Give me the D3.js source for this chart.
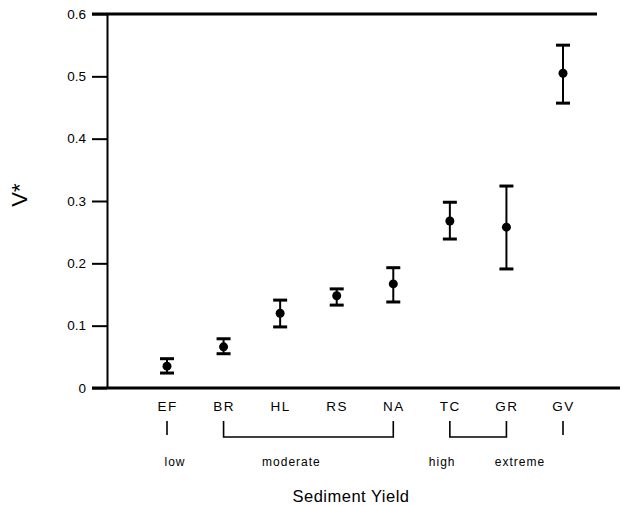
<!DOCTYPE html>
<html>
<head>
<meta charset="utf-8">
<script src="https://cdn.jsdelivr.net/npm/d3@7.9.0/dist/d3.min.js"></script>
<style>
  body { margin: 0; background: #fff; }
  svg { display: block; font-family: "Liberation Sans", Arial, sans-serif; }
</style>
</head>
<body>
<svg width="629" height="506"></svg>
<script>
// sites along the sediment yield axis
const sites = ["EF", "BR", "HL", "RS", "NA", "TC", "GR", "GV"];
// V* mean and error bar ends
const vMean = [0.035, 0.066, 0.12, 0.148, 0.167, 0.268, 0.258, 0.505];
const vLow  = [0.024, 0.055, 0.098, 0.133, 0.138, 0.239, 0.191, 0.457];
const vHigh = [0.047, 0.079, 0.141, 0.159, 0.193, 0.298, 0.324, 0.55];
const yTicks = [0, 0.1, 0.2, 0.3, 0.4, 0.5, 0.6];
// sediment yield classes (first and last site of each)
const groupNames = ["low", "moderate", "high", "extreme"];
const groupFrom = ["EF", "BR", "TC", "GV"];
const groupTo = ["EF", "NA", "GR", "GV"];

const svg = d3.select("svg");
const plotLeft = 107, plotTop = 14, plotBottom = 388;

const x = d3.scalePoint().domain(sites).range([167, 563]);
const y = d3.scaleLinear().domain([0, 0.6]).range([plotBottom, plotTop]);

// y axis
const yAxis = svg.append("g")
  .attr("transform", `translate(${plotLeft},0)`)
  .call(d3.axisLeft(y).tickValues(yTicks).tickSize(15).tickSizeOuter(0).tickPadding(6)
    .tickFormat(d => d === 0 ? "0" : d3.format(".1f")(d)));
yAxis.select(".domain").attr("stroke", "#000").attr("stroke-width", 2);
yAxis.selectAll(".tick line").attr("stroke", "#000").attr("stroke-width", 2);
yAxis.selectAll(".tick text").attr("font-size", 13.5).attr("fill", "#000");

// frame lines top and bottom
svg.append("line").attr("x1", plotLeft - 15).attr("x2", 597)
  .attr("y1", y(0.6)).attr("y2", y(0.6)).attr("stroke", "#000").attr("stroke-width", 3);
svg.append("line").attr("x1", plotLeft - 15).attr("x2", 620)
  .attr("y1", y(0)).attr("y2", y(0)).attr("stroke", "#000").attr("stroke-width", 3);

// x axis labels
const xAxis = svg.append("g")
  .attr("transform", `translate(0,${plotBottom})`)
  .call(d3.axisBottom(x).tickSize(0).tickPadding(13));
xAxis.select(".domain").remove();
xAxis.selectAll(".tick text").attr("font-size", 13.5).attr("fill", "#000")
  .attr("letter-spacing", "1.5px");

// error bars
const bars = svg.append("g");
sites.forEach((s, i) => {
  const cx = x(s);
  bars.append("line").attr("x1", cx).attr("x2", cx)
    .attr("y1", y(vLow[i])).attr("y2", y(vHigh[i]))
    .attr("stroke", "#000").attr("stroke-width", 2);
  [vLow[i], vHigh[i]].forEach(v => {
    bars.append("line").attr("x1", cx - 7).attr("x2", cx + 7)
      .attr("y1", y(v)).attr("y2", y(v))
      .attr("stroke", "#000").attr("stroke-width", 3);
  });
  bars.append("circle").attr("cx", cx).attr("cy", y(vMean[i])).attr("r", 4.5).attr("fill", "#000");
});

// class brackets and names
const bTop = 421, bBot = 437;
const nameShift = { low: 8, moderate: -17, high: -36, extreme: -43 };
groupNames.forEach((g, i) => {
  const x1 = x(groupFrom[i]), x2 = x(groupTo[i]);
  const p = x1 === x2
    ? `M${x1},${bTop}V${bBot - 2}`
    : `M${x1},${bTop}V${bBot}H${x2}V${bTop}`;
  svg.append("path").attr("d", p).attr("fill", "none")
    .attr("stroke", "#000").attr("stroke-width", 1.6);
  svg.append("text").attr("x", (x1 + x2) / 2 + nameShift[g]).attr("y", 466)
    .attr("text-anchor", "middle").attr("font-size", 12).attr("letter-spacing", "1px")
    .text(g);
});

svg.append("text").attr("x", 351).attr("y", 502).attr("text-anchor", "middle")
  .attr("font-size", 16.5).attr("letter-spacing", "0.5px").text("Sediment Yield");

svg.append("text").attr("transform", "translate(27,195) rotate(-90)")
  .attr("text-anchor", "middle").attr("font-size", 22).text("V*");
</script>
</body>
</html>
